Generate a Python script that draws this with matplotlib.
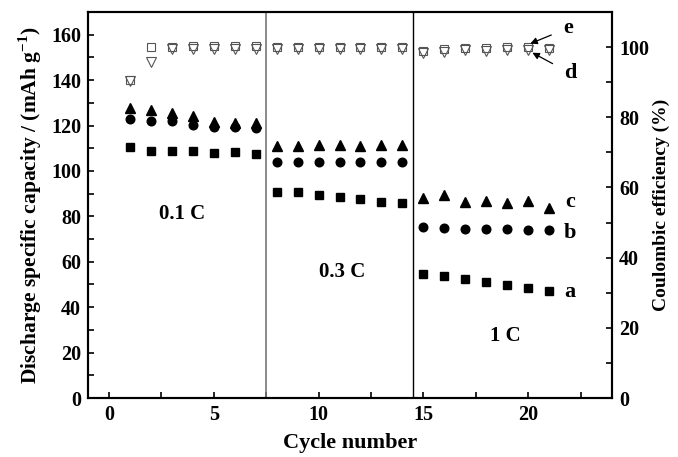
import matplotlib
matplotlib.use("Agg")
import matplotlib.pyplot as plt
from matplotlib.ticker import MultipleLocator

plt.rcParams['font.family'] = ['Liberation Serif', 'DejaVu Serif']
plt.rcParams['font.weight'] = 'bold'
plt.rcParams['mathtext.fontset'] = 'custom'
plt.rcParams['mathtext.rm'] = 'Liberation Serif:bold'
plt.rcParams['mathtext.bf'] = 'Liberation Serif:bold'

cycles = list(range(1, 22))
cap_a = [110.4, 109, 109, 109, 108, 108.5, 107.5,
         90.9, 90.6, 89.4, 88.7, 87.6, 86.5, 85.7,
         54.6, 53.8, 52.6, 51, 49.8, 48.4, 47]
cap_b = [122.7, 122.2, 121.8, 120.2, 119.2, 119.2, 118.8,
         104, 104, 104, 104, 104, 104, 104,
         75.5, 75, 74.6, 74.5, 74.4, 74, 74]
cap_c = [127.6, 126.8, 125.7, 124.2, 121.5, 121, 121,
         111, 111, 111.5, 111.5, 111, 111.5, 111.5,
         88, 89.4, 86.5, 86.9, 86, 86.9, 83.5]
ce_e = [90.6, 100, 100, 100.2, 100.2, 100.2, 100.3,
        100, 100, 100, 100, 100, 100, 100,
        98.8, 99.6, 99.8, 99.8, 100, 100, 99.8]
ce_d = [90.2, 95.7, 99.5, 99.6, 99.6, 99.6, 99.6,
        99.5, 99.5, 99.5, 99.5, 99.5, 99.5, 99.5,
        98.4, 98.6, 99.2, 98.9, 99.2, 99.3, 99.2]
rate_labels = ["0.1 C", "0.3 C", "1 C"]
curve_labels = ["a", "b", "c", "d", "e"]

fig = plt.figure(figsize=(6.78, 4.57), dpi=100)
ax = fig.add_axes([0.1298, 0.1291, 0.7729, 0.8446])
ax2 = ax.twinx()

ax.plot(cycles, cap_a, ls='none', marker='s', ms=5.6, color='black')
ax.plot(cycles, cap_b, ls='none', marker='o', ms=6.2, color='black')
ax.plot(cycles, cap_c, ls='none', marker='^', ms=6.8, color='black')
ax2.plot(cycles, ce_e, ls='none', marker='s', ms=6.0, mfc='white', mec='#555555', mew=0.8)
ax2.plot(cycles, ce_d, ls='none', marker='v', ms=7.2, mfc='none', mec='#555555', mew=0.8)

ax.axvline(7.5, color='#777777', lw=1.2)
ax.axvline(14.5, color='black', lw=1.0)

ax.set_xlim(-1, 24)
ax.set_ylim(0, 170)
ax2.set_ylim(0, 110)

ax.xaxis.set_major_locator(MultipleLocator(5))
ax.xaxis.set_minor_locator(MultipleLocator(2.5))
ax.yaxis.set_major_locator(MultipleLocator(20))
ax.yaxis.set_minor_locator(MultipleLocator(10))
ax2.yaxis.set_major_locator(MultipleLocator(20))
ax2.yaxis.set_minor_locator(MultipleLocator(10))

for a in (ax, ax2):
    a.tick_params(which='both', direction='in', length=4.5, width=1.2, labelsize=14.5, pad=5)
    for s in a.spines.values():
        s.set_linewidth(1.5)
ax.tick_params(axis='x', which='both', top=False)

for lab in ax.get_xticklabels() + ax.get_yticklabels() + ax2.get_yticklabels():
    lab.set_fontweight('bold')

ax.set_xlabel("Cycle number", fontsize=16, fontweight='bold', labelpad=6)
ax.set_ylabel("Discharge specific capacity / (mAh g$^{-1}$)", fontsize=15.5, fontweight='bold', labelpad=5)
ax2.set_ylabel("Coulombic efficiency (%)", fontsize=14, fontweight='bold', labelpad=3)

ax.text(3.5, 81, rate_labels[0], fontsize=15, fontweight='bold', ha='center', va='center')
ax.text(11.1, 55.5, rate_labels[1], fontsize=15, fontweight='bold', ha='center', va='center')
ax.text(18.9, 27.5, rate_labels[2], fontsize=15, fontweight='bold', ha='center', va='center')

ax.text(22.0, 46.5, curve_labels[0], fontsize=16, fontweight='bold', ha='center', va='center')
ax.text(22.0, 72.5, curve_labels[1], fontsize=16, fontweight='bold', ha='center', va='center')
ax.text(22.0, 86.5, curve_labels[2], fontsize=16, fontweight='bold', ha='center', va='center')

ax2.annotate(curve_labels[4], xy=(20.1, 101.0), xytext=(21.9, 105.4),
             fontsize=16, fontweight='bold', ha='center', va='center',
             arrowprops=dict(arrowstyle='-|>', color='black', lw=0.9, shrinkA=7, shrinkB=0, mutation_scale=10))
ax2.annotate(curve_labels[3], xy=(20.2, 98.4), xytext=(22.0, 92.6),
             fontsize=16, fontweight='bold', ha='center', va='center',
             arrowprops=dict(arrowstyle='-|>', color='black', lw=0.9, shrinkA=7, shrinkB=0, mutation_scale=10))

fig.savefig("out.png", dpi=100)
